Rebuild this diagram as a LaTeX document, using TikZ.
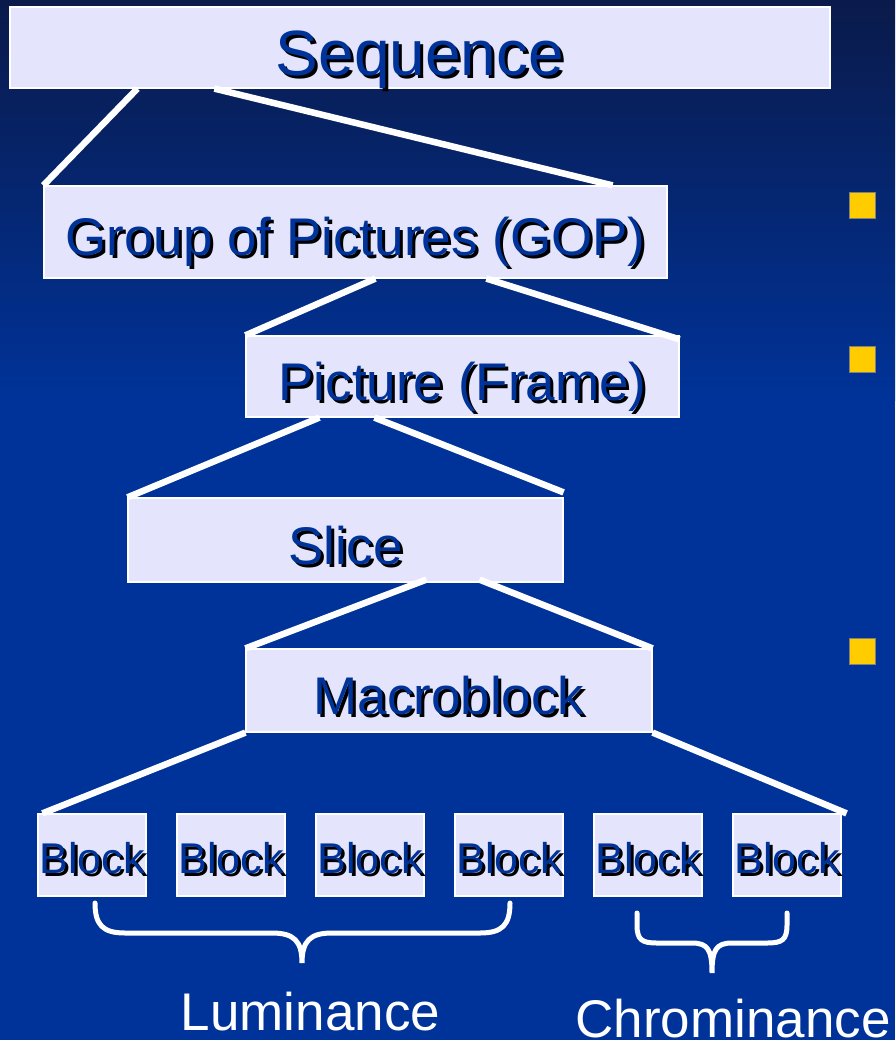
\documentclass[tikz,border=0pt]{standalone}
\usepackage{fontspec}
\setmainfont{Liberation Sans}
\definecolor{bgtop}{RGB}{10,26,74}
\definecolor{bgblue}{RGB}{0,51,153}
\definecolor{boxfill}{RGB}{228,228,252}
\definecolor{boxtext}{RGB}{0,51,153}
\definecolor{bullet}{RGB}{255,204,0}
\newcommand{\shadowed}[1]{\makebox[0pt][l]{\kern3pt\raisebox{-3pt}{\color{black}#1}}#1}

\begin{document}
\begin{tikzpicture}[x=1pt,y=-1pt,
    layerbox/.style={draw=white,line width=1.2pt,fill=boxfill,text=boxtext,inner sep=0pt,
      font=\fontsize{53}{60}\selectfont,text height=48pt,text depth=0pt},
    blockbox/.style={layerbox,minimum width=108pt,minimum height=82pt,
      font=\fontsize{43}{50}\selectfont,text height=36pt},
    link/.style={white,line width=6.5pt},
    brace/.style={white,line width=5pt,line cap=round},
    sq/.style={fill=bullet,draw=gray,line width=0.8pt,minimum size=26pt,inner sep=0pt}]
    \useasboundingbox (0,0) rectangle (895,1040);
    \fill[top color=bgtop,bottom color=bgblue] (0,0) rectangle (895,400);
    \fill[bgblue] (0,400) rectangle (895,1040);

    % levels of the stream
    \node[layerbox,minimum width=820pt,minimum height=81pt,
      font=\fontsize{64}{70}\selectfont,text height=57pt] (seq) at (420,47.5) {\shadowed{Sequence}};
    \node[layerbox,minimum width=623pt,minimum height=92pt] (gop) at (355.5,232) {\shadowed{Group of Pictures (GOP)}};
    \node[layerbox,minimum width=433pt,minimum height=81pt] (pic) at (462.5,376.5) {\shadowed{Picture (Frame)}};
    \node[layerbox,minimum width=435pt,minimum height=84pt] (slice) at (345.5,540) {\shadowed{Slice}};
    \node[layerbox,minimum width=406pt,minimum height=83pt] (mb) at (449,690.5) {\shadowed{Macroblock}};
    \foreach \i in {1,...,6}
      \node[blockbox] (b\i) at ({92+139*(\i-1)},855) {\shadowed{Block}};

    \draw[link] ([xshift=128pt]seq.south west) -- (gop.north west);
    \draw[link] ([xshift=205pt]seq.south west) -- ([xshift=-55pt]gop.north east);
    \draw[link] ([xshift=332pt]gop.south west) -- (pic.north west);
    \draw[link] ([xshift=443pt]gop.south west) -- ([yshift=-4pt]pic.north east);
    \draw[link] ([xshift=74pt]pic.south west) -- (slice.north west);
    \draw[link] ([xshift=129pt]pic.south west) -- ([yshift=5pt]slice.north east);
    \draw[link] ([xshift=299pt,yshift=3pt]slice.south west) -- (mb.north west);
    \draw[link] ([xshift=352pt,yshift=3pt]slice.south west) -- (mb.north east);
    \draw[link] (mb.south west) -- ([xshift=5pt]b1.north west);
    \draw[link] (mb.south east) -- ([xshift=5pt]b6.north east);

    % braces under the blocks
    \draw[brace] (95,903) .. controls (95,925) and (103,933) .. (125,933) -- (272,933)
      .. controls (294,933) and (302,941) .. (302,963)
      .. controls (302,941) and (310,933) .. (332,933) -- (480,933)
      .. controls (502,933) and (510,925) .. (510,903);
    \draw[brace] (637,913) -- (637,925) .. controls (637,940) and (642,943) .. (657,943) -- (692,943)
      .. controls (708,943) and (712,950) .. (712,973)
      .. controls (712,950) and (716,943) .. (732,943) -- (767,943)
      .. controls (782,943) and (787,940) .. (787,925) -- (787,913);
    \node[white,font=\fontsize{53}{60}\selectfont,anchor=base,inner sep=0pt] (lum) at (310.5,1030) {Luminance};
    \node[white,font=\fontsize{53}{60}\selectfont,anchor=base,inner sep=0pt] (chrom) at (733,1037) {Chrominance};

    % bullets on the right
    \node[sq] (bul1) at (862,205) {};
    \node[sq] (bul2) at (862,359) {};
    \node[sq] (bul3) at (862,651) {};
\end{tikzpicture}
\end{document}
